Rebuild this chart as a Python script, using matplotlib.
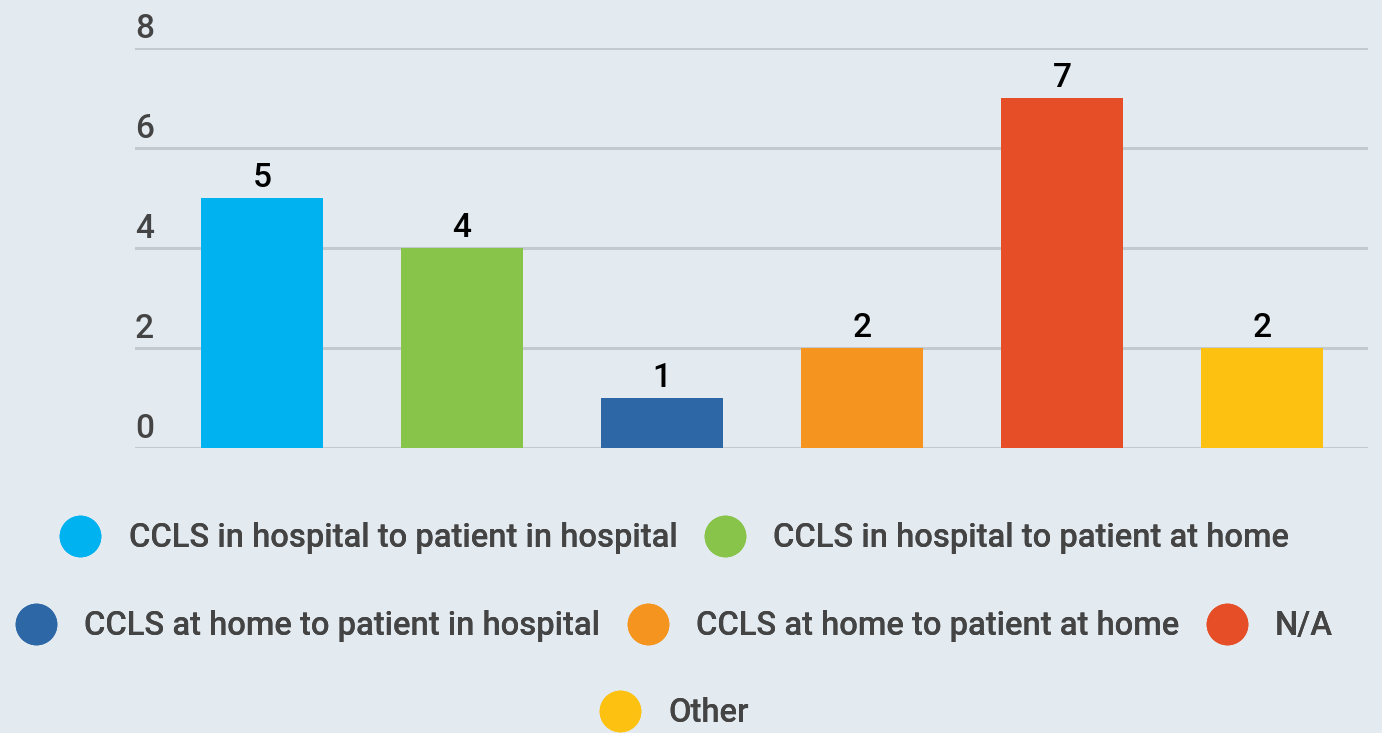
import matplotlib.pyplot as plt
from matplotlib.lines import Line2D
from matplotlib.transforms import ScaledTranslation

# --- DATA ---
categories = [
    "CCLS in hospital to patient in hospital",
    "CCLS in hospital to patient at home",
    "CCLS at home to patient in hospital",
    "CCLS at home to patient at home",
    "N/A",
    "Other",
]
counts = [5, 4, 1, 2, 7, 2]
yticks = [0, 2, 4, 6, 8]
colors = ["#00b2ef", "#88c44a", "#2d67a6", "#f5951f", "#e54e27", "#fdc111"]
legend_rows = [[0, 1], [2, 3, 4], [5]]

BG = "#e3ebf1"
GRID = "#c3c9cc"
TEXT = "#444444"

plt.rcParams['font.family'] = ['Roboto', 'DejaVu Sans']
plt.rcParams['font.weight'] = 'medium'

fig = plt.figure(figsize=(13.82, 7.33), dpi=100, facecolor=BG)
W, H = 1382, 733
ax = fig.add_axes([135 / W, 285 / H, (1368 - 135) / W, 400 / H])
ax.set_facecolor(BG)

x = list(range(len(categories)))
bars = ax.bar(x, counts, width=0.61, color=colors, zorder=3)
for b, v in zip(bars, counts):
    ax.annotate(str(v), (b.get_x() + b.get_width() / 2, v), xytext=(0, 8),
                textcoords='offset points', ha='center', va='baseline',
                fontsize=24, fontweight='medium', color='black', zorder=4)

ax.set_xlim(-0.635, 5.53)
ax.set_ylim(0, 8)
ax.set_yticks(yticks)
ax.set_xticks([])
ax.grid(axis='y', color=GRID, linewidth=2.2, zorder=0)
ax.set_axisbelow(True)
for s in ax.spines.values():
    s.set_visible(False)

ax.tick_params(axis='y', length=0, pad=0, labelsize=24, labelcolor=TEXT)
offset = ScaledTranslation(0, 7 / 72, fig.dpi_scale_trans)
for lab in ax.get_yticklabels():
    lab.set_horizontalalignment('left')
    lab.set_verticalalignment('baseline')
    lab.set_fontweight('medium')
    lab.set_transform(lab.get_transform() + offset)

# --- LEGEND (three centered rows) ---
row_y = [538, 626, 713]
for row, yy in zip(legend_rows, row_y):
    handles = [Line2D([], [], marker='o', linestyle='none', markersize=30,
                      markerfacecolor=colors[i], markeredgecolor='none')
               for i in row]
    labels = [categories[i] for i in row]
    leg = fig.legend(handles, labels, loc='center', ncol=len(row),
                     bbox_to_anchor=(674 / W, 1 - yy / H), frameon=False,
                     handlelength=1.3, handletextpad=0.82,
                     columnspacing=0.8, borderpad=0, borderaxespad=0,
                     labelcolor=TEXT, prop={'weight': 'medium', 'size': 23.6})
    fig.add_artist(leg)

fig.savefig('out.png', dpi=100, facecolor=BG)
